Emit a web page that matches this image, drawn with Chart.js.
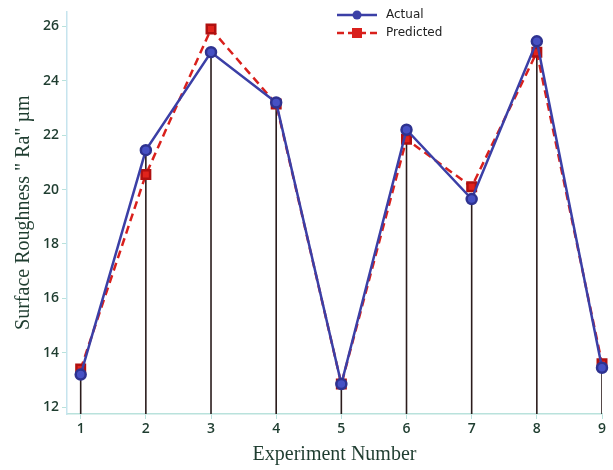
<!DOCTYPE html>
<html>
<head>
<meta charset="utf-8">
<script src="https://cdn.jsdelivr.net/npm/chart.js@4"></script>
<style>
  html, body { margin: 0; padding: 0; background: #fff; }
  #wrap { width: 613px; height: 470px; }
</style>
</head>
<body>
<div id="wrap"><canvas id="chart" width="613" height="470"></canvas></div>
<script>
// values
const experiments = [1, 2, 3, 4, 5, 6, 7, 8, 9];
const actual    = [13.2, 21.45, 25.05, 23.2, 12.85, 22.2, 19.65, 25.45, 13.45];
const predicted = [13.4, 20.55, 25.9, 23.15, 12.85, 21.85, 20.1, 25.05, 13.6];
const seriesNames = ['Actual', 'Predicted'];
const yMin = 11.75, yMax = 26.55;

const tickColor = '#1f3d30';
const axisColor = '#b9e2dc';
const blue = '#3b3fa6';
const red = '#d9201c';

const toPoints = vals => experiments.map((e, i) => ({ x: e, y: vals[i] }));

// vertical drop lines from the axis up to each actual value, broken by nulls
const dropPoints = experiments.flatMap((e, i) => [
    { x: e, y: yMin }, { x: e, y: actual[i] }, { x: e, y: null }
]);

// legend drawn as line + marker like the original figure
const lineLegend = {
    id: 'lineLegend',
    afterDraw(chart) {
        const ctx = chart.ctx;
        const rows = [
            { name: seriesNames[0], color: blue, dash: [], marker: 'circle', y: 15 },
            { name: seriesNames[1], color: red, dash: [7, 4], marker: 'rect', y: 33 }
        ];
        ctx.save();
        rows.forEach(r => {
            ctx.strokeStyle = r.color;
            ctx.lineWidth = 2.5;
            ctx.setLineDash(r.dash);
            ctx.beginPath();
            ctx.moveTo(337, r.y);
            ctx.lineTo(377, r.y);
            ctx.stroke();
            ctx.setLineDash([]);
            ctx.fillStyle = r.color;
            if (r.marker === 'circle') {
                ctx.beginPath();
                ctx.arc(357, r.y, 4.5, 0, Math.PI * 2);
                ctx.fill();
            } else {
                ctx.fillRect(352, r.y - 5, 10, 10);
            }
            ctx.fillStyle = '#222';
            ctx.font = '12px "DejaVu Sans"';
            ctx.textBaseline = 'middle';
            ctx.fillText(r.name, 386, r.y);
        });
        ctx.restore();
    }
};

new Chart(document.getElementById('chart'), {
    type: 'line',
    data: {
        datasets: [
            {
                label: seriesNames[0],
                data: toPoints(actual),
                borderColor: blue,
                backgroundColor: '#4650c4',
                pointBorderColor: '#2e3290',
                borderWidth: 2.5,
                pointRadius: 5,
                pointStyle: 'circle',
                tension: 0,
                clip: false,
                order: 0
            },
            {
                label: seriesNames[1],
                data: toPoints(predicted),
                borderColor: red,
                backgroundColor: '#e0231c',
                pointBorderColor: '#b01010',
                borderWidth: 2.5,
                borderDash: [8, 5],
                pointRadius: 6,
                pointStyle: 'rect',
                tension: 0,
                clip: false,
                order: 1
            },
            {
                label: 'drop',
                data: dropPoints,
                borderColor: '#2b1c1c',
                borderWidth: 1.6,
                pointRadius: 0,
                spanGaps: false,
                order: 2
            }
        ]
    },
    options: {
        responsive: false,
        animation: false,
        layout: { padding: { left: 10, right: 11, top: 5, bottom: 0 } },
        plugins: {
            legend: { display: false },
            tooltip: { enabled: false }
        },
        scales: {
            x: {
                type: 'linear',
                min: 0.79,
                max: 9,
                afterFit: s => { s.height = 56; },
                ticks: {
                    stepSize: 1,
                    includeBounds: false,
                    autoSkip: false,
                    padding: 2,
                    color: tickColor,
                    font: { family: 'Open Sans', size: 14, weight: '600' }
                },
                grid: { drawOnChartArea: false, color: axisColor, tickLength: 5 },
                border: { color: axisColor, width: 1.5 },
                title: {
                    display: true,
                    text: 'Experiment Number',
                    color: tickColor,
                    font: { family: 'Liberation Serif', size: 20 },
                    padding: { top: 0, bottom: 3 }
                }
            },
            y: {
                min: yMin,
                max: yMax,
                afterFit: s => { s.width = 57; },
                ticks: {
                    stepSize: 2,
                    includeBounds: false,
                    padding: 3,
                    color: tickColor,
                    font: { family: 'Open Sans', size: 14, weight: '600' }
                },
                grid: { drawOnChartArea: false, color: axisColor, tickLength: 5 },
                border: { color: '#c6e4ee', width: 1.5 },
                title: {
                    display: true,
                    text: 'Surface Roughness " Ra" µm',
                    color: tickColor,
                    font: { family: 'Liberation Serif', size: 20 },
                    padding: { top: 2, bottom: 0 }
                }
            }
        }
    },
    plugins: [lineLegend]
});
</script>
</body>
</html>
